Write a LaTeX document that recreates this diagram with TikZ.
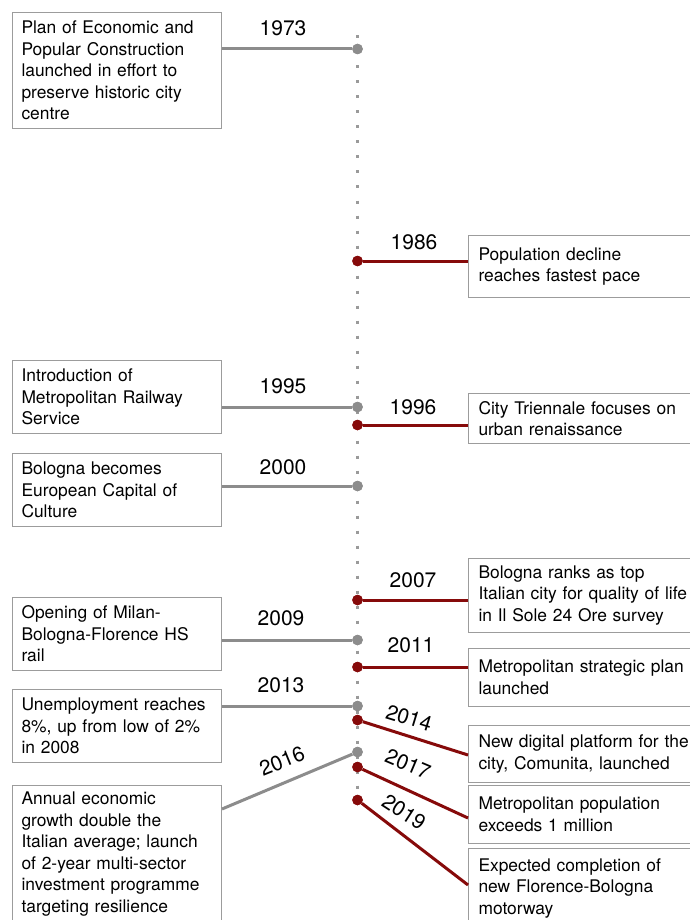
\documentclass[tikz,border=0pt]{standalone}
\usepackage{fontspec}
\setmainfont{TeX Gyre Heros}
\definecolor{greyc}{HTML}{8C8C8C}
\definecolor{axisc}{HTML}{9A9A9A}
\definecolor{boxc}{HTML}{9C9C9C}
\definecolor{redc}{HTML}{860A0A}
\newcommand\bxfont{\fontsize{17.4}{21.6}\selectfont}
\newcommand\yrfont{\fontsize{21}{24}\selectfont}
\tikzset{
  lbox/.style={draw=boxc, line width=1pt, fill=white, anchor=north west, align=left,
    inner xsep=9pt, inner ysep=0pt, text width=191pt, minimum width=209pt, font=\bxfont},
  rbox/.style={draw=boxc, line width=1pt, fill=white, anchor=north west, align=left,
    inner xsep=10pt, inner ysep=0pt, text width=215pt, minimum width=235pt, font=\bxfont},
  yr/.style={font=\yrfont, inner sep=0pt},
  gline/.style={draw=greyc, line width=3pt},
  rline/.style={draw=redc, line width=3pt},
  gdot/.style={circle, fill=greyc, minimum size=10.5pt, inner sep=0pt},
  rdot/.style={circle, fill=redc, minimum size=10.5pt, inner sep=0pt},
  axisline/.style={draw=axisc, line width=3pt, dash pattern=on 3pt off 12pt},
}
\begin{document}
\begin{tikzpicture}[x=1pt,y=-1pt]
\useasboundingbox[fill=white] (0,0) rectangle (689,920);
% axis
\coordinate (atop) at (357.5,35.5);
\coordinate (abot) at (357.5,805);
\draw[axisline] (atop) -- (abot);
% dots
\node[gdot] (d1973) at (357.5,49) {};
\node[rdot] (d1986) at (357.5,261) {};
\node[gdot] (d1995) at (357.5,407) {};
\node[rdot] (d1996) at (357.5,425) {};
\node[gdot] (d2000) at (357.5,486) {};
\node[rdot] (d2007) at (357.5,600) {};
\node[gdot] (d2009) at (357.5,640) {};
\node[rdot] (d2011) at (357.5,667) {};
\node[gdot] (d2013) at (357.5,706) {};
\node[rdot] (d2014) at (357.5,720) {};
\node[gdot] (d2016) at (357.5,752) {};
\node[rdot] (d2017) at (357.5,767) {};
\node[rdot] (d2019) at (357.5,800) {};
% left boxes
\node[lbox, minimum height=116pt] (b1973) at (12,12) {Plan of Economic and\\Popular Construction\\launched in effort to\\preserve historic city\\centre};
\node[lbox, minimum height=73pt] (b1995) at (12,360) {Introduction of\\Metropolitan Railway\\Service};
\node[lbox, minimum height=73pt] (b2000) at (12,453) {Bologna becomes\\European Capital of\\Culture};
\node[lbox, minimum height=73pt] (b2009) at (12,597) {Opening of Milan-\\Bologna-Florence HS\\rail};
\node[lbox, minimum height=73pt] (b2013) at (12,689) {Unemployment reaches\\8\%, up from low of 2\%\\in 2008};
\node[lbox, minimum height=137pt] (b2016) at (12,785) {Annual economic\\growth double the\\Italian average; launch\\of 2-year multi-sector\\investment programme\\targeting resilience};
% right boxes
\node[rbox, minimum height=62pt] (b1986) at (468,235) {Population decline\\reaches fastest pace};
\node[rbox, minimum height=50pt] (b1996) at (468,393) {City Triennale focuses on\\urban renaissance};
\node[rbox, minimum height=74pt] (b2007) at (468,558) {Bologna ranks as top\\Italian city for quality of life\\in Il Sole 24 Ore survey};
\node[rbox, minimum height=58pt] (b2011) at (468,648) {Metropolitan strategic plan\\launched};
\node[rbox, minimum height=57pt] (b2014) at (468,725) {New digital platform for the\\city, Comunita, launched};
\node[rbox, minimum height=58pt] (b2017) at (468,785) {Metropolitan population\\exceeds 1 million};
\node[rbox, minimum height=80pt] (b2019) at (468,848) {Expected completion of\\new Florence-Bologna\\motorway};
% connectors
\draw[gline] (b1973.east |- d1973) -- (d1973);
\draw[rline] (d1986) -- (b1986.west |- d1986);
\draw[gline] (b1995.east |- d1995) -- (d1995);
\draw[rline] (d1996) -- (b1996.west |- d1996);
\draw[gline] (b2000.east |- d2000) -- (d2000);
\draw[rline] (d2007) -- (b2007.west |- d2007);
\draw[gline] (b2009.east |- d2009) -- (d2009);
\draw[rline] (d2011) -- (b2011.west |- d2011);
\draw[gline] (b2013.east |- d2013) -- (d2013);
\draw[rline] (d2014) -- ([yshift=-30pt]b2014.north west);
\draw[gline] ([yshift=-24pt]b2016.north east) -- (d2016);
\draw[rline] (d2017) -- ([yshift=-33pt]b2017.north west);
\draw[rline] (d2019) -- ([yshift=-37pt]b2019.north west);
% redraw dots on top
\foreach \d in {d1973,d1995,d2000,d2009,d2013,d2016}{\fill[greyc] (\d) circle (5.25pt);}
\foreach \d in {d1986,d1996,d2007,d2011,d2014,d2017,d2019}{\fill[redc] (\d) circle (5.25pt);}
% years
\node[yr] (y1973) at (283,28) {1973};
\node[yr] (y1986) at (414,242) {1986};
\node[yr] (y1995) at (283,386) {1995};
\node[yr] (y1996) at (413,407) {1996};
\node[yr] (y2000) at (283,467) {2000};
\node[yr] (y2007) at (413,580) {2007};
\node[yr] (y2009) at (281,618) {2009};
\node[yr] (y2011) at (411,645) {2011};
\node[yr] (y2013) at (281,685) {2013};
\node[yr, rotate=-17] (y2014) at (409,718) {2014};
\node[yr, rotate=22] (y2016) at (282,761) {2016};
\node[yr, rotate=-23] (y2017) at (408,764) {2017};
\node[yr, rotate=-33] (y2019) at (404,812) {2019};
\end{tikzpicture}
\end{document}
